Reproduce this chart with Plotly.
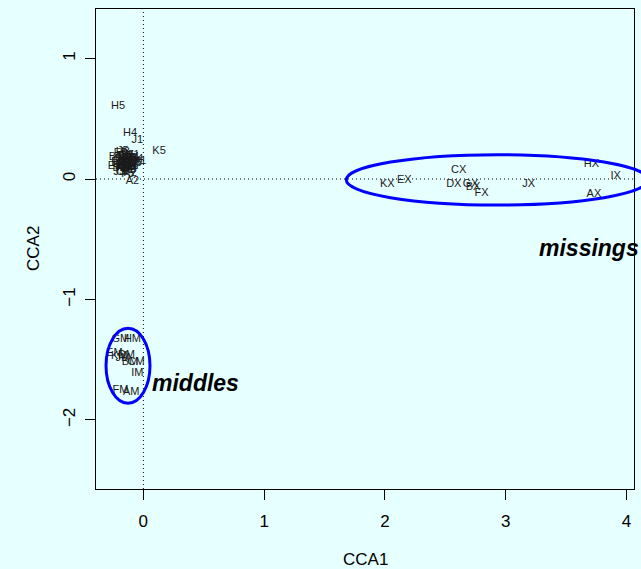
import plotly.graph_objects as go

# ---- data ----
site_labels = [
    "A1", "A2", "A3", "A4", "A5",
    "B1", "B2", "B3", "B4", "B5",
    "C1", "C2", "C3", "C4", "C5",
    "D1", "D2", "D3", "D4", "D5",
    "E1", "E2", "E3", "E4", "E5",
    "F1", "F2", "F3", "F4", "F5",
    "G1", "G2", "G3", "G4", "G5",
    "H1", "H2", "H3", "H4", "H5",
    "I1", "I2", "I3", "I4", "I5",
    "J1", "J2", "J3", "J4", "J5",
    "K1", "K2", "K3", "K4", "K5",
]
site_cca1 = [
    -0.14, -0.09, -0.12, -0.16, -0.11,
    -0.23, -0.20, -0.15, -0.18, -0.13,
    -0.10, -0.17, -0.12, -0.14, -0.07,
    -0.19, -0.13, -0.16, -0.11, -0.15,
    -0.21, -0.24, -0.17, -0.14, -0.19,
    -0.12, -0.18, -0.10, -0.16, -0.13,
    -0.15, -0.11, -0.20, -0.06, -0.14,
    -0.09, -0.12, -0.17, -0.11, -0.21,
    -0.13, -0.18, -0.08, -0.15, -0.05,
    -0.05, -0.10, -0.20, -0.13, -0.17,
    -0.03, -0.11, -0.16, -0.09, 0.13,
]
site_cca2 = [
    0.12, -0.02, 0.07, 0.10, 0.15,
    0.18, 0.09, 0.13, 0.16, 0.20,
    0.11, 0.06, 0.17, 0.08, 0.14,
    0.12, 0.10, 0.19, 0.09, 0.15,
    0.14, 0.11, 0.11, 0.16, 0.21,
    0.13, 0.09, 0.17, 0.14, 0.04,
    0.11, 0.12, 0.15, 0.16, 0.19,
    0.20, 0.08, 0.22, 0.38, 0.60,
    0.15, 0.13, 0.11, 0.09, 0.13,
    0.32, 0.15, 0.06, 0.17, 0.23,
    0.15, 0.05, 0.12, 0.18, 0.23,
]

middle_labels = ["GM", "HM", "EM", "KM", "DM", "BM", "JM", "CM", "IM", "FM", "AM"]
middle_cca1 = [-0.19, -0.09, -0.24, -0.20, -0.14, -0.11, -0.17, -0.06, -0.05, -0.19, -0.10]
middle_cca2 = [-1.33, -1.33, -1.45, -1.47, -1.46, -1.52, -1.49, -1.52, -1.61, -1.75, -1.77]

missing_labels = ["KX", "EX", "CX", "DX", "GX", "BX", "FX", "JX", "HX", "IX", "AX"]
missing_cca1 = [2.02, 2.16, 2.61, 2.57, 2.71, 2.73, 2.80, 3.19, 3.71, 3.91, 3.73]
missing_cca2 = [-0.04, -0.01, 0.07, -0.04, -0.04, -0.07, -0.12, -0.04, 0.12, 0.02, -0.13]

# group ellipses: centre (cca1, cca2) and semi-axes
ellipse_names = ["middles", "missings"]
ellipse_cx = [-0.127, 2.93]
ellipse_cy = [-1.55, -0.007]
ellipse_rx = [0.182, 1.25]
ellipse_ry = [0.311, 0.209]
group_text_x = [0.078, 3.28]
group_text_y = [-1.69, -0.57]

x_ticks = [0, 1, 2, 3, 4]
y_ticks = [-2, -1, 0, 1]
x_range = [-0.392, 4.062]
y_range = [-2.573, 1.411]

# ---- figure ----
BG = "#E6FFFF"
FONT = "Liberation Sans, Arial, sans-serif"
label_font = dict(family=FONT, size=11, color="#1a1a1a")

fig = go.Figure()
for labs, xs, ys in [(site_labels, site_cca1, site_cca2),
                     (middle_labels, middle_cca1, middle_cca2),
                     (missing_labels, missing_cca1, missing_cca2)]:
    fig.add_trace(go.Scatter(x=xs, y=ys, text=labs, mode="text",
                             textposition="middle center",
                             textfont=label_font, cliponaxis=False,
                             showlegend=False, hoverinfo="text"))


def to_paper(v, rng):
    return (v - rng[0]) / (rng[1] - rng[0])


shapes = [
    dict(type="line", xref="x", yref="paper", x0=0, x1=0, y0=0, y1=1,
         line=dict(color="black", width=1, dash="1px,3px"), layer="below"),
    dict(type="line", xref="paper", yref="y", x0=0, x1=1, y0=0, y1=0,
         line=dict(color="black", width=1, dash="1px,3px"), layer="below"),
]
for cx, cy, rx, ry in zip(ellipse_cx, ellipse_cy, ellipse_rx, ellipse_ry):
    shapes.append(dict(type="circle", xref="paper", yref="paper",
                       x0=to_paper(cx - rx, x_range), x1=to_paper(cx + rx, x_range),
                       y0=to_paper(cy - ry, y_range), y1=to_paper(cy + ry, y_range),
                       line=dict(color="#0000FF", width=3)))

annotations = []
for name, tx, ty in zip(ellipse_names, group_text_x, group_text_y):
    annotations.append(dict(x=tx, y=ty, xref="x", yref="y", text="<b><i>%s</i></b>" % name,
                            showarrow=False, xanchor="left", yanchor="middle", xshift=-3,
                            font=dict(family=FONT, size=23, color="black")))
annotations.append(dict(x=0.5, y=0, xref="paper", yref="paper", text="CCA1",
                        showarrow=False, xanchor="center", yanchor="middle", yshift=-70,
                        font=dict(family=FONT, size=17, color="black")))
annotations.append(dict(x=0, y=0.5, xref="paper", yref="paper", text="CCA2",
                        showarrow=False, xanchor="center", yanchor="middle", xshift=-63,
                        textangle=-90, font=dict(family=FONT, size=17, color="black")))

axis_common = dict(showgrid=False, zeroline=False, showline=True, linecolor="black",
                   linewidth=1, mirror=True, ticks="outside", ticklen=10,
                   tickcolor="black", tickwidth=1,
                   tickfont=dict(family=FONT, size=17, color="black"))

fig.update_layout(
    width=641, height=569,
    margin=dict(l=96, r=7, t=9, b=80, autoexpand=False),
    paper_bgcolor=BG, plot_bgcolor=BG,
    xaxis=dict(range=x_range, tickvals=x_ticks, ticklabelstandoff=7, **axis_common),
    yaxis=dict(range=y_range, tickvals=y_ticks, tickangle=-90, ticklabelstandoff=3,
               **axis_common),
    shapes=shapes, annotations=annotations,
    showlegend=False,
)

fig.write_html(
    "out.html",
    config={"displayModeBar": False},
    post_script="document.body.style.margin='0';document.body.style.overflow='hidden';"
                "document.body.style.background='%s';" % BG,
)
